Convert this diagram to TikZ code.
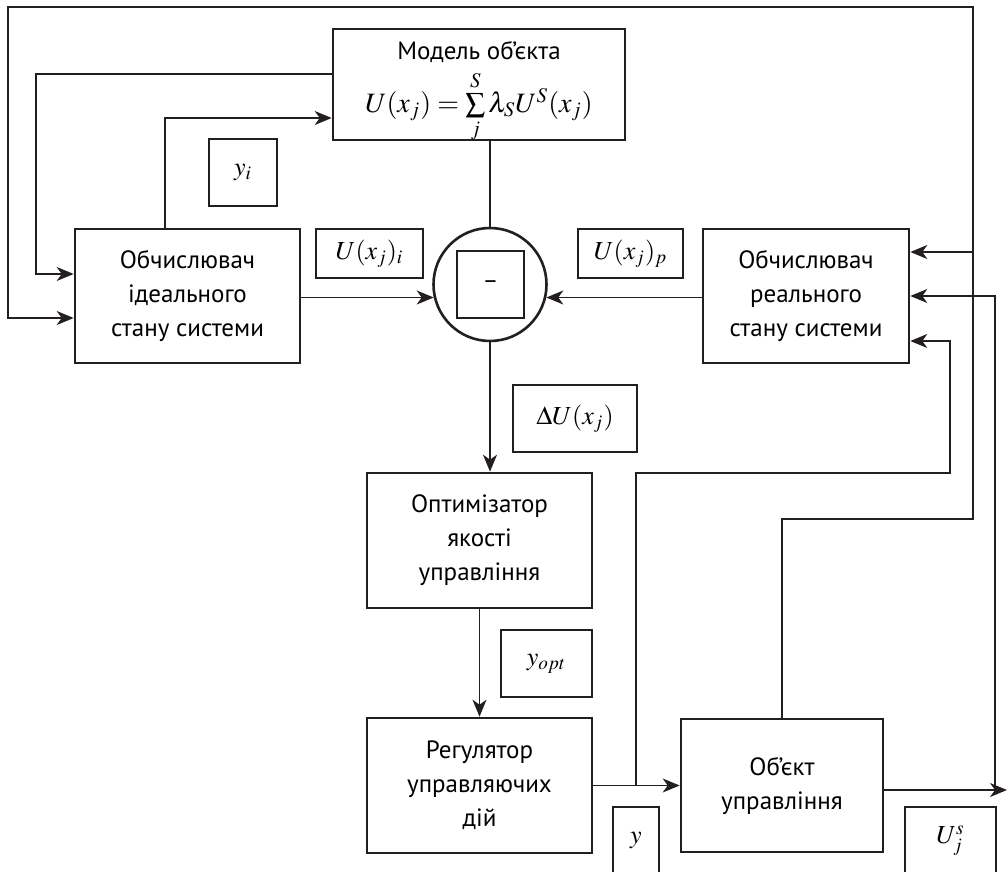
\documentclass[tikz,border=0pt]{standalone}
\usepackage{mathptmx}
\usepackage[no-math]{fontspec}
\setmainfont{PT Sans}
\usetikzlibrary{arrows.meta}
\definecolor{ink}{RGB}{35,31,32}

\begin{document}
\begin{tikzpicture}[x=0.5pt, y=-0.5pt,
  block/.style={draw=ink, line width=1.3pt, align=center, inner sep=0pt,
    font=\fontsize{12.5}{17}\selectfont},
  tag/.style={draw=ink, line width=1.3pt, inner sep=0pt,
    font=\fontsize{13}{15}\selectfont},
  conn/.style={draw=ink, line width=0.7pt},
  arr/.style={conn, -{Stealth[length=8.5pt, width=7pt, inset=2.5pt]}}]

\clip (0,0) rectangle (1007,872);

% Nodes
\node (model) [block, minimum width=146pt, minimum height=55.5pt] at (479,84.5) {};
\node (modeltext) [align=center, inner sep=0pt, font=\fontsize{12.5}{17}\selectfont] at (479,92)
  {Модель об’єкта\\[3pt]
   {\fontsize{14}{16}\selectfont$U(x_j)=\sum\limits_j^S\lambda_S U^S(x_j)$}};
\node (ideal) [block, minimum width=112.5pt, minimum height=67pt] at (187.5,296)
  {Обчислювач\\ ідеального\\ стану системи};
\node (real) [block, minimum width=103pt, minimum height=67pt] at (806,296)
  {Обчислювач\\ реального\\ стану системи};
\node (sum) [circle, draw=ink, line width=1.3pt, minimum size=56.5pt, inner sep=0pt] at (490,284.5) {};
\node (minus) [tag, minimum size=33.5pt, font=\fontsize{12}{14}\selectfont] at (490.5,284.5) {–};
\node (optim) [block, minimum width=112.5pt, minimum height=67.5pt] at (479.5,540.5)
  {Оптимізатор\\ якості\\ управління};
\node (regul) [block, minimum width=112.5pt, minimum height=67.5pt] at (479.5,785.5)
  {Регулятор\\ управляючих\\ дій};
\node (plant) [block, minimum width=101pt, minimum height=66.5pt] at (782,785.5)
  {Об’єкт\\ управління};

% Labels
\node (yi) [tag, minimum width=34pt, minimum height=33.5pt] at (243,172.5) {$y_i$};
\node (ui) [tag, minimum width=53.5pt, minimum height=24.5pt] at (369.5,253.5) {$U(x_j)_i$};
\node (up) [tag, minimum width=52.5pt, minimum height=24.5pt] at (630.5,253.5) {$U(x_j)_p$};
\node (du) [tag, minimum width=62pt, minimum height=33.5pt] at (575,418.5) {$\Delta U(x_j)$};
\node (yopt) [tag, minimum width=45.5pt, minimum height=33.5pt] at (546.5,663.5) {$y_{opt}$};
\node (yout) [tag, minimum width=23pt, minimum height=33.5pt] at (636,840.5) {$y$};
\node (us) [tag, minimum width=45.5pt, minimum height=33.5pt] at (950.5,840.5) {$U_j^s$};

% Bend points
\coordinate (topL) at (8,7);
\coordinate (topR) at (973,7);
\coordinate (mLoop) at (36,74);
\coordinate (yTap) at (636,785.5);
\coordinate (rBend) at (950,473);
\coordinate (oTap) at (995,790);
\coordinate (out) at (1007,790);

% Arrows
\draw[arr] (ideal.north -| 165,0) |- (model.west |- 0,118);
\draw[arr] (model.west |- mLoop) -- (mLoop) |- (ideal.west |- 0,274);
\draw[conn] (model.south -| sum.north) -- (sum.north);
\draw[arr] (ideal.east |- sum.193) -- (sum.193);
\draw[arr] (real.west |- sum.347) -- (sum.347);
\draw[arr] (sum.south) -- (sum.south |- optim.north);
\draw[arr] (optim.south) -- (regul.north);
\draw[arr] (regul.east) -- (plant.west);
\draw[arr] (yTap) |- (rBend) |- (real.east |- 0,341);
\draw[arr] (plant.north) |- (topR |- 0,519) -- (topR) -- (topL) |- (ideal.west |- 0,318);
\draw[arr] (topR |- 0,252) -- (real.east |- 0,252);
\draw[arr] (plant.east |- out) -- (out);
\draw[arr] (oTap) |- (real.east |- 0,296);

\end{tikzpicture}
\end{document}
